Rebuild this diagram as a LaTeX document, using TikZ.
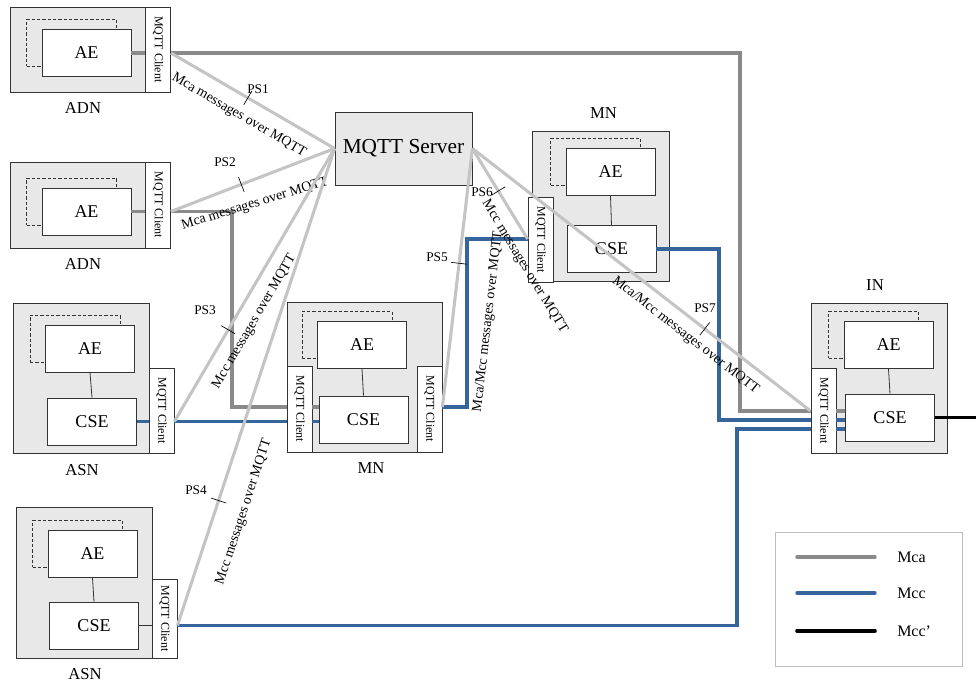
\documentclass[tikz,border=0pt]{standalone}
\usepackage{fontspec}
\setmainfont{Liberation Serif}
\usetikzlibrary{positioning}

\definecolor{boxfill}{HTML}{E8E8E8}
\definecolor{mcagray}{HTML}{8A8A8A}
\definecolor{mccblue}{HTML}{35659B}
\definecolor{psgray}{HTML}{C4C4C4}
\definecolor{legline}{HTML}{BDBDBD}
\newcommand{\mqttclient}{\rotatebox{-90}{MQTT Client}}

\begin{document}
\begin{tikzpicture}[
  x=0.75pt, y=-0.75pt,
  every node/.style={inner sep=0pt, font=\fontsize{13.5}{15}\selectfont}
]
\tikzset{
  frame/.style  ={draw=black!80, line width=0.6pt},
  dev/.style    ={frame, fill=boxfill, minimum width=102pt,
                  minimum height=112.5pt},
  devs/.style   ={dev, minimum height=63.75pt},
  comp/.style   ={frame, fill=white, minimum width=66.75pt,
                  minimum height=35.25pt},
  ghost/.style  ={draw=black!80, line width=0.5pt,
                  dash pattern=on 2.5pt off 1.5pt,
                  minimum width=67.5pt, minimum height=35.25pt},
  client/.style ={frame, fill=white, minimum width=18.75pt,
                  minimum height=63.75pt, font=\fontsize{9}{10}\selectfont},
  srvbox/.style ={frame, fill=boxfill, minimum width=102.75pt,
                  minimum height=54.75pt, font=\fontsize{16}{18}\selectfont},
  devlab/.style ={font=\fontsize{12.5}{14}\selectfont},
  pslab/.style  ={font=\fontsize{10}{12}\selectfont},
  lbltxt/.style ={font=\fontsize{10.5}{12}\selectfont},
  lbl/.style    ={lbltxt, sloped},
  tick/.style   ={draw=black, line width=0.5pt, sloped, minimum width=0pt,
                  minimum height=12pt},
  link/.style   ={draw=black!80, line width=0.6pt},
  mcaline/.style={draw=mcagray, line width=2.5pt},
  mccline/.style={draw=mccblue, line width=2.4pt},
  mcxline/.style={draw=black, line width=2.7pt},
  psline/.style ={draw=psgray, line width=2.3pt},
  legtxt/.style ={anchor=west, font=\fontsize{12}{14}\selectfont}
}
\useasboundingbox (0,0) rectangle (976,684);

%% ----- ADN (two application dedicated nodes) -----
\node[devs] (a1) at (78,49.5) {};
\node[ghost] (a1g) at (71.5,43) {};
\node[comp] (a1ae) at (86.5,53) {AE};
\node[client] (a1cl) at (158,49.5) {\mqttclient};
\node[devlab] (a1lab) at (83,108) {ADN};

\node[devs, minimum height=64.5pt] (a2) at (78,205) {};
\node[ghost] (a2g) at (71.5,201.5) {};
\node[comp] (a2ae) at (86.5,211.5) {AE};
\node[client, minimum height=64.5pt] (a2cl) at (158,205) {\mqttclient};
\node[devlab] (a2lab) at (83,264) {ADN};

%% ----- ASN -----
\node[dev] (s1) at (81,378) {};
\node[ghost] (s1g) at (75,338.5) {};
\node[comp] (s1ae) at (90,348.5) {AE};
\node[comp] (s1cse) at (92,421.5) {CSE};
\node[client] (s1cl) at (161.5,410.5) {\mqttclient};
\node[devlab] (s1lab) at (82,470) {ASN};

\node[dev, minimum height=113.25pt] (s2) at (84,582.5) {};
\node[ghost] (s2g) at (77.5,544) {};
\node[comp] (s2ae) at (92.5,554) {AE};
\node[comp] (s2cse) at (94,625.5) {CSE};
\node[client, minimum height=59.25pt] (s2cl) at (164.5,618.5) {\mqttclient};
\node[devlab] (s2lab) at (85,674) {ASN};

%% ----- MN (middle) -----
\node[dev, minimum width=116.25pt] (m1) at (364.5,377) {};
\node[ghost] (m1g) at (347,335) {};
\node[comp] (m1ae) at (362,345) {AE};
\node[comp] (m1cse) at (363.5,419.5) {CSE};
\node[client, minimum height=64.5pt] (m1lc) at (299.5,409) {\mqttclient};
\node[client, minimum height=64.5pt] (m1rc) at (429.5,409) {\mqttclient};
\node[devlab] (m1lab) at (371,468) {MN};

%% ----- MN (top) -----
\node[dev, minimum width=102.75pt] (m2) at (600.5,206) {};
\node[ghost] (m2g) at (595.5,162) {};
\node[comp] (m2ae) at (610.5,172) {AE};
\node[comp] (m2cse) at (611.5,249) {CSE};
\node[client] (m2cl) at (540.5,239.5) {\mqttclient};
\node[devlab] (m2lab) at (603.5,113) {MN};

%% ----- IN -----
\node[dev] (in) at (879,378) {};
\node[ghost] (ing) at (873.5,335) {};
\node[comp] (inae) at (888.5,345) {AE};
\node[comp] (incse) at (890,417.5) {CSE};
\node[client] (incl) at (823.5,410.5) {\mqttclient};
\node[devlab] (inlab) at (875,285) {IN};

%% ----- MQTT server -----
\node[srvbox] (srv) at (403.5,148.5) {MQTT Server};

%% ----- internal links -----
\foreach \d in {s1,s2,m1,m2,in}
  \draw[link] (\d ae.south) -- (\d cse.north);
\draw[mcaline] (a1ae.east) -- (a1ae.east -| a1cl.west);
\draw[mcaline] (a2ae.east) -- (a2ae.east -| a2cl.west);
\draw[mccline] (s1cse.east) -- (s1cse.east -| s1cl.west);
\draw[link] (s2cse.east) -- (s2cse.east -| s2cl.west);

%% ----- bends -----
\coordinate (mcain) at (740,411);
\coordinate (mcamn) at (232,407);
\coordinate (mccmn) at (467,239);
\coordinate (mccin1) at (719,420);
\coordinate (mccin2) at (737,429);
\coordinate (inout) at (976,421);

%% ----- Mca -----
\draw[mcaline] (a1ae.east -| a1cl.east) -| (mcain) -- (mcain -| incl.west);
\draw[mcaline] (mcain -| incl.east) -- (mcain -| incse.west);
\draw[mcaline] (a2ae.east -| a2cl.east) -| (mcamn) -- (mcamn -| m1lc.west);
\draw[mcaline] (mcamn -| m1lc.east) -- (mcamn -| m1cse.west);

%% ----- Mcc -----
\draw[mccline] (s1cse.east -| s1cl.east) -- (s1cse.east -| m1lc.west);
\draw[mccline] (s1cse.east -| m1lc.east) -- (s1cse.east -| m1cse.west);
\draw[mccline] (mcamn -| m1rc.east) -| (mccmn) -- (mccmn -| m2cl.west);
\draw[mccline] (m2cse.east) -| (mccin1) -- (mccin1 -| incl.west);
\draw[mccline] (mccin1 -| incl.east) -- (mccin1 -| incse.west);
\draw[mccline] (s2cse.east -| s2cl.east) -| (mccin2) -- (mccin2 -| incl.west);
\draw[mccline] (mccin2 -| incl.east) -- (mccin2 -| incse.west);
\draw[mcxline] (incse.east) -- (incse.east -| inout);

%% ----- MQTT paths PS1..PS7 -----
\draw[psline] (a1ae.east -| a1cl.east) --
  node[tick, pos=.47] (t1) {}
  node[lbl, pos=.476, below=9pt] (l1) {Mca messages over MQTT} (srv.west);
\draw[psline] (a2ae.east -| a2cl.east) --
  node[tick, pos=.43] (t2) {} (srv.west);
\node[lbltxt, rotate=17] (l2) at (255,204) {Mca messages over MQTT};
\draw[psline] (s1cse.east -| s1cl.east) --
  node[tick, pos=.336] (t3) {}
  node[lbl, pos=.40, below=8pt] (l3) {Mcc messages over MQTT} (srv.west);
\draw[psline] (s2cse.east -| s2cl.east) --
  node[tick, pos=.262] (t4) {}
  node[lbl, pos=.256, below=15pt] (l4) {Mcc messages over MQTT} (srv.west);
\draw[psline] (mcamn -| m1rc.east) --
  node[tick, pos=.556] (t5) {}
  node[lbl, pos=.346, below=21pt] (l5) {Mca/Mcc messages over MQTT} (srv.east);
\draw[psline] (srv.east) --
  node[tick, pos=.47] (t6) {}
  node[lbl, pos=1.207, below=7pt] (l6) {Mcc messages over MQTT}
  (mccmn -| m2cl.west);
\draw[psline] (srv.east) --
  node[tick, pos=.687] (t7) {}
  node[lbl, pos=.661, below=7pt] (l7) {Mca/Mcc messages over MQTT}
  (mcain -| incl.west);

\node[pslab] (p1) at (258,89) {PS1};
\node[pslab] (p2) at (225,162) {PS2};
\node[pslab] (p3) at (205,310) {PS3};
\node[pslab] (p4) at (196,490) {PS4};
\node[pslab] (p5) at (437,257) {PS5};
\node[pslab] (p6) at (482,192) {PS6};
\node[pslab] (p7) at (705,308) {PS7};

%% ----- Legend -----
\node[draw=legline, line width=0.75pt, minimum width=140.25pt,
      minimum height=99.75pt] (leg) at (868.5,599.5) {};
\foreach \n/\s/\y/\t in {mca/mcaline/557/Mca, mcc/mccline/593/Mcc,
                         mcx/mcxline/631/Mcc’} {
  \coordinate (l\n a) at (797,\y);
  \coordinate (l\n b) at (875,\y);
  \draw[\s, line cap=round] (l\n a) -- (l\n b);
  \node[legtxt] (l\n) at (897,\y) {\t};
}

\end{tikzpicture}
\end{document}
